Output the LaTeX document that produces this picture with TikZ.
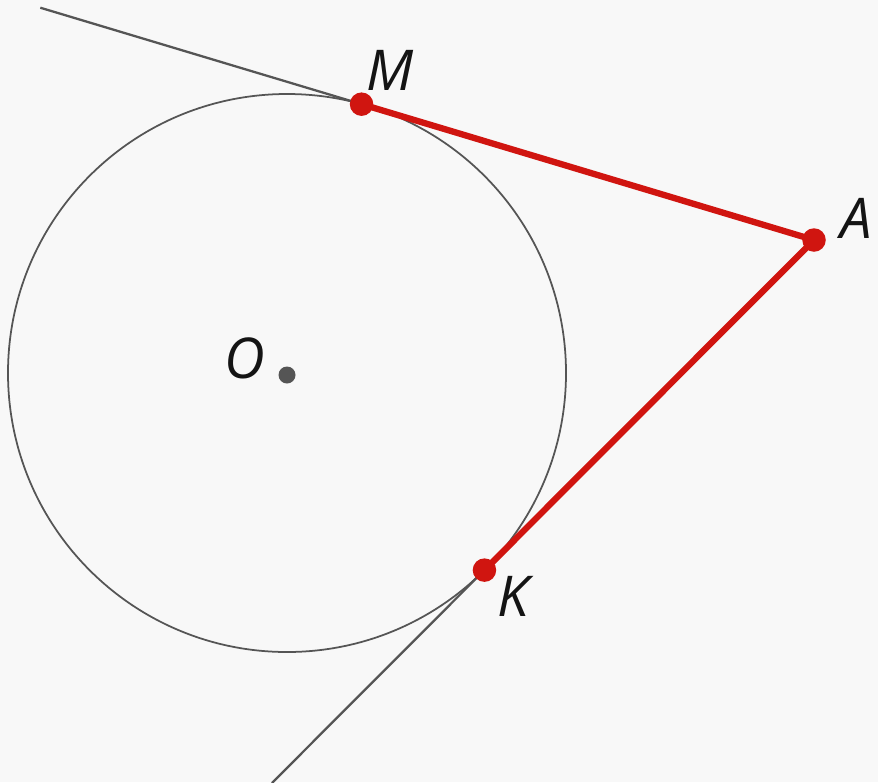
\documentclass[tikz,border=0pt]{standalone}
\usepackage{fontspec}
\setmainfont{Open Sans}
\usetikzlibrary{calc}
\definecolor{paper}{HTML}{F8F8F8}
\definecolor{ink}{HTML}{141414}
\definecolor{inkgray}{HTML}{555555}
\definecolor{accentred}{HTML}{D01510}
\tikzset{
  thinline/.style={draw=inkgray,line width=1.3pt},
  redline/.style={draw=accentred,line width=3.6pt,line cap=round},
  reddot/.style={circle,fill=accentred,inner sep=0pt,minimum size=0.47cm},
  centerdot/.style={circle,fill=inkgray,inner sep=0pt,minimum size=0.34cm},
  ptlabel/.style={font=\fontsize{32}{34}\selectfont\itshape,text=ink,inner sep=0pt}
}

\begin{document}
\begin{tikzpicture}
  \fill[paper] (0,0) rectangle (17.56,-15.64);
  \useasboundingbox (0,0) rectangle (17.56,-15.64);
  \coordinate (O) at (5.74,-7.46);
  \coordinate (A) at (16.28,-4.80);
  \coordinate (M) at ($(O)+(74.5:5.58)$);
  \coordinate (K) at ($(O)+(-44.95:5.58)$);
  \coordinate (Mend) at ($(A)!1.71!(M)$);
  \coordinate (Kend) at ($(A)!1.645!(K)$);
  % circle and tangents
  \draw[inkgray,line width=1pt] (O) circle (5.58);
  \draw[thinline] (A) -- (Mend);
  \draw[thinline] (A) -- (Kend);
  \draw[redline] (M) -- (A) -- (K);
  \node[reddot] (Mdot) at (M) {};
  \node[reddot] (Adot) at (A) {};
  \node[reddot] (Kdot) at (K) {};
  \node[centerdot] (Odot) at ($(O)+(0,-0.04)$) {};
  % labels
  \node[ptlabel] (Mlab) at (7.80,-1.40) {M};
  \node[ptlabel] (Alab) at (17.12,-4.36) {A};
  \node[ptlabel] (Klab) at (10.26,-11.92) {K};
  \node[ptlabel] (Olab) at (4.90,-7.16) {O};
\end{tikzpicture}
\end{document}
